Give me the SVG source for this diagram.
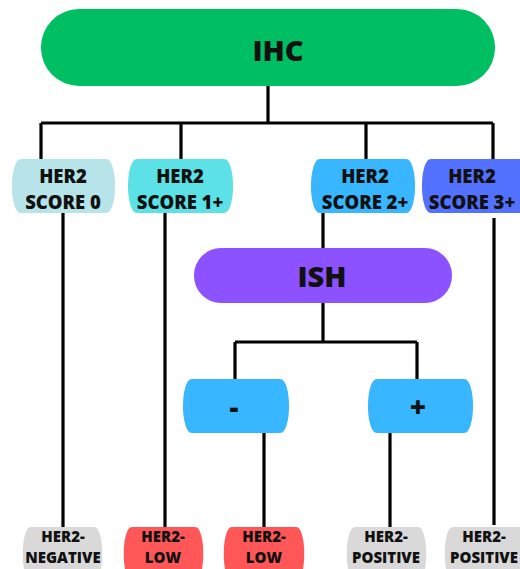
<svg xmlns="http://www.w3.org/2000/svg" width="520" height="569" viewBox="0 0 520 569">
<style>
.t{font-family:"Open Sans","Noto Sans","Liberation Sans",sans-serif;font-weight:800;fill:#111;text-anchor:middle}
.big{font-size:29px}
.mid{font-size:18.5px}
.sign{font-size:28px}
.sm{font-size:15px}
.ln{stroke:#000;stroke-width:3.2;fill:none;stroke-linecap:butt}
</style>
<rect width="520" height="569" fill="#fff"/>
<g id="connectors">
<path class="ln" d="M268 86V123M41 123H493M41 123V160M181 123V160M366 123V160M493 123V160"/>
<path class="ln" d="M63 213V527M165 213V527M323 213V248M494 218V525"/>
<path class="ln" d="M323 303V342M235 342H417M235 342V379M417 342V379"/>
<path class="ln" d="M264 433V527M390 433V527"/>
</g>
<g id="ihc">
<rect x="41" y="9" width="454" height="77" rx="38" fill="#00BF63"/>
<text class="t big" x="278" y="61">IHC</text>
</g>
<g id="score0">
<path d="M21 159H106C118 159 118 213 106 213H21C9 213 9 159 21 159Z" fill="#B7E4E9"/>
<text class="t mid" x="63" y="183">HER2</text>
<text class="t mid" x="63" y="209">SCORE 0</text>
</g>
<g id="score1">
<path d="M137 159H224C236 159 236 213 224 213H137C125 213 125 159 137 159Z" fill="#5CE1E6"/>
<text class="t mid" x="180" y="183">HER2</text>
<text class="t mid" x="180" y="209">SCORE 1+</text>
</g>
<g id="score2">
<path d="M320 159H406C418 159 418 213 406 213H320C308 213 308 159 320 159Z" fill="#38B6FF"/>
<text class="t mid" x="365" y="183">HER2</text>
<text class="t mid" x="365" y="209">SCORE 2+</text>
</g>
<g id="score3">
<path d="M431 159H520V213H431C419 213 419 159 431 159Z" fill="#5271FF"/>
<text class="t mid" x="472" y="183">HER2</text>
<text class="t mid" x="472" y="209">SCORE 3+</text>
</g>
<g id="ish">
<rect x="194" y="248" width="258" height="55" rx="27" fill="#8C52FF"/>
<text class="t big" x="322" y="287">ISH</text>
</g>
<g id="neg">
<path d="M192 379H280C292 379 292 433 280 433H192C180 433 180 379 192 379Z" fill="#38B6FF"/>
<text class="t sign" x="234" y="417">-</text>
</g>
<g id="pos">
<path d="M377 379H464C476 379 476 433 464 433H377C365 433 365 379 377 379Z" fill="#38B6FF"/>
<text class="t sign" x="418" y="417">+</text>
</g>
<g id="her2-negative">
<path d="M31 527H94C105 527 105 581 94 581H31C20 581 20 527 31 527Z" fill="#D9D9D9"/>
<text class="t sm" x="63" y="542">HER2-</text>
<text class="t sm" x="63" y="563">NEGATIVE</text>
</g>
<g id="her2-low-1">
<path d="M132 527H195C206 527 206 581 195 581H132C121 581 121 527 132 527Z" fill="#FF5757"/>
<text class="t sm" x="163" y="542">HER2-</text>
<text class="t sm" x="163" y="563">LOW</text>
</g>
<g id="her2-low-2">
<path d="M232 527H296C307 527 307 581 296 581H232C221 581 221 527 232 527Z" fill="#FF5757"/>
<text class="t sm" x="264" y="542">HER2-</text>
<text class="t sm" x="264" y="563">LOW</text>
</g>
<g id="her2-positive-1">
<path d="M355 527H418C429 527 429 581 418 581H355C344 581 344 527 355 527Z" fill="#D9D9D9"/>
<text class="t sm" x="386" y="542">HER2-</text>
<text class="t sm" x="386" y="563">POSITIVE</text>
</g>
<g id="her2-positive-2">
<path d="M453 527H520V581H453C442 581 442 527 453 527Z" fill="#D9D9D9"/>
<text class="t sm" x="484" y="542">HER2-</text>
<text class="t sm" x="484" y="563">POSITIVE</text>
</g>
</svg>
